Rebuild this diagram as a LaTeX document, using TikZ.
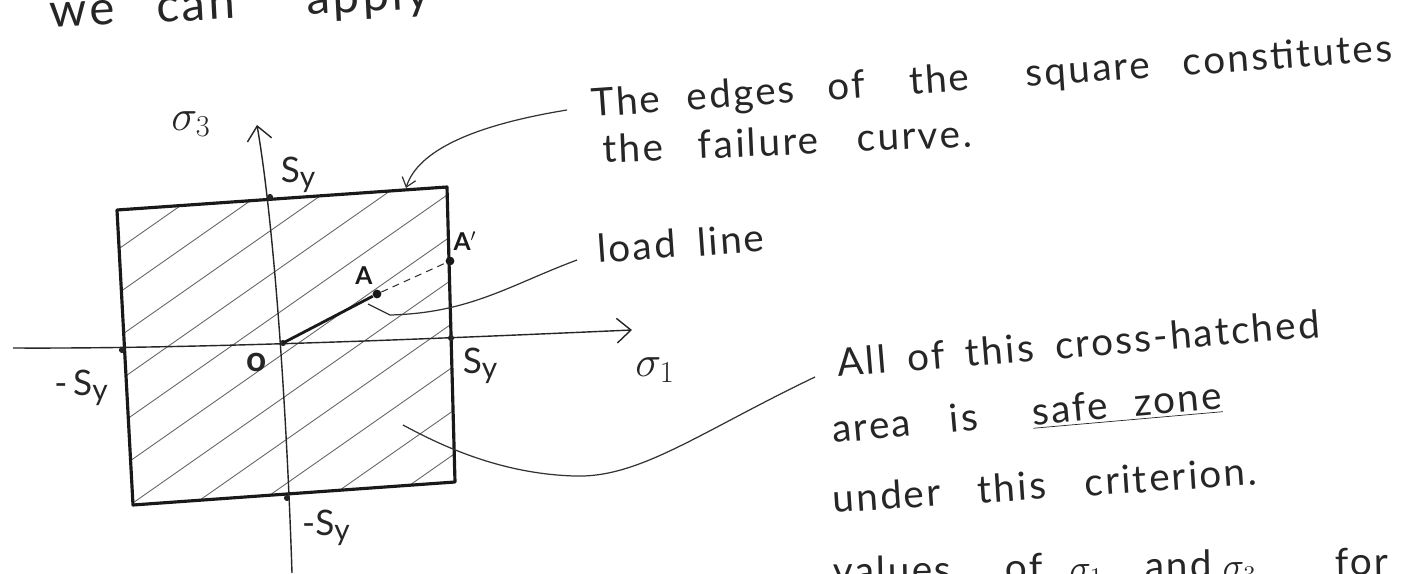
\documentclass[tikz,border=0pt]{standalone}
\usepackage{fontspec}
\setmainfont{Lato}
\newfontfamily\handfont[LetterSpace=6]{Lato}
\usetikzlibrary{arrows.meta}
\newcommand{\SyLbl}{S{\fontsize{17}{20}\selectfont\raisebox{-0.3ex}{y}}}
\newcommand{\wsp}{\spaceskip=0.55em\relax}
\newcommand{\gp}[1]{\hspace{#1pt}}
\begin{document}
\begin{tikzpicture}[x=0.02cm,y=-0.02cm,
  hand/.style={font=\handfont\fontsize{22}{26}\selectfont, inner sep=0pt, anchor=base west, text=black!85},
  lbl/.style={font=\fontsize{20}{24}\selectfont, inner sep=0pt, text=black!85},
  sig/.style={font=\fontsize{24}{28}\selectfont, inner sep=0pt, text=black!85},
  small/.style={font=\fontsize{14}{16}\selectfont\bfseries, inner sep=0pt, text=black!90},
  sqedge/.style={line width=1.8pt, line join=round, black!90},
  axis/.style={line width=0.8pt, black!85, -{Straight Barb[length=8pt,width=14pt,line width=0.8pt]}},
  hatch/.style={line width=0.5pt, black!60},
  leader/.style={line width=0.7pt, black!80},
  dot/.style={circle, fill=black!90, inner sep=0pt, minimum size=5pt},
  tick/.style={circle, fill=black!85, inner sep=0pt, minimum size=3.5pt},
]
\useasboundingbox (0,0) rectangle (1406,574);
\clip (0,0) rectangle (1406,574);
\fill[white] (0,0) rectangle (1406,574);

% square corners
\coordinate (TL) at (117,210);
\coordinate (TR) at (447,187);
\coordinate (BR) at (455,482);
\coordinate (BL) at (133,505);

% hatching
\begin{scope}
  \clip (TL) -- (TR) -- (BR) -- (BL) -- cycle;
  \foreach \c in {218,262,...,750} \draw[hatch] (100,\c) -- (480,\c-266);
\end{scope}

% square (failure curve)
\draw[sqedge] (TL) -- (TR) -- (BR) -- (BL) -- cycle;

% axes
\coordinate (hL) at (13,348);
\coordinate (hR) at (632,330);
\coordinate (vB) at (292,573);
\coordinate (vT) at (257,125);
\coordinate (O) at (283,343);
\draw[axis] (hL) .. controls (200,349) and (450,338) .. (hR);
\draw[axis] (vB) .. controls (287,420) and (275,230) .. (vT);

% ticks on axes
\node[tick] (tL) at (122,350) {};
\node[tick] (tR) at (451,338) {};
\node[tick] (tT) at (270,197) {};
\node[tick] (tB) at (287,498) {};
\node[tick] (tO) at (O) {};

% load line
\node[dot] (A) at (377,294) {};
\node[dot] (Ap) at (450,261) {};
\draw[line width=1.6pt, black!90] (O) -- (A);
\draw[line width=0.6pt, black!80, dash pattern=on 4pt off 3pt] (A) -- (Ap);

% axis labels
\node[sig] (s3) at (191,124) {$\sigma_3$};
\node[sig] (s1) at (655,370) {$\sigma_1$};
\node[lbl] (syT) at (298,175) {\SyLbl};
\node[lbl] (syR) at (480,366) {\SyLbl};
\node[lbl] (syL) at (81,388) {-\,\SyLbl};
\node[lbl] (syB) at (326,528) {-\SyLbl};
\node[lbl] (Ol) at (257,362) {\textbf{o}};
\node[small] (Al) at (364,276) {A};
\node[small] (Apl) at (465,241) {A$'$};

% text
\node[hand, font=\handfont\fontsize{27}{30}\selectfont, rotate=3] (t0) at (50,28) {we\gp{24}can\gp{41}apply};
\node[hand, rotate=4] (t1) at (592,117) {The\gp{15}edges\gp{19}of\gp{25}the\gp{32}square\gp{19}constitutes};
\node[hand, rotate=2.5] (t2) at (603,163) {the\gp{20}failure\gp{22}curve.};
\node[hand, rotate=4] (t3) at (598,263) {load\gp{12}line};
\node[hand, rotate=4.7] (t4) at (838,377) {\wsp All of this cross-hatched};
\node[hand, rotate=5] (t5) at (833,443) {area\gp{22}is\gp{31}\underline{safe\gp{15}zone}};
\node[hand, rotate=3.8] (t6) at (833,513) {under\gp{21}this\gp{22}criterion.};
\node[hand, rotate=1] (t7) at (833,585) {values\gp{31}of\gp{15}$\sigma_1$\gp{24}and\gp{6}$\sigma_3$\gp{45}for};

% leaders
\coordinate (fcS) at (567,110);
\coordinate (fcE) at (406,188);
\draw[leader, -{Straight Barb[length=5pt,width=8pt]}] (fcS) .. controls (475,125) and (418,150) .. (fcE);
\coordinate (llS) at (577,260);
\coordinate (llK) at (390,315);
\coordinate (llE) at (368,304);
\draw[leader] (llS) .. controls (510,285) and (470,313) .. (llK) -- (llE);
\coordinate (szS) at (815,377);
\coordinate (szE) at (403,425);
\draw[leader] (szS) .. controls (700,432) and (640,478) .. (575,476) .. controls (500,474) and (440,445) .. (szE);
\end{tikzpicture}
\end{document}
